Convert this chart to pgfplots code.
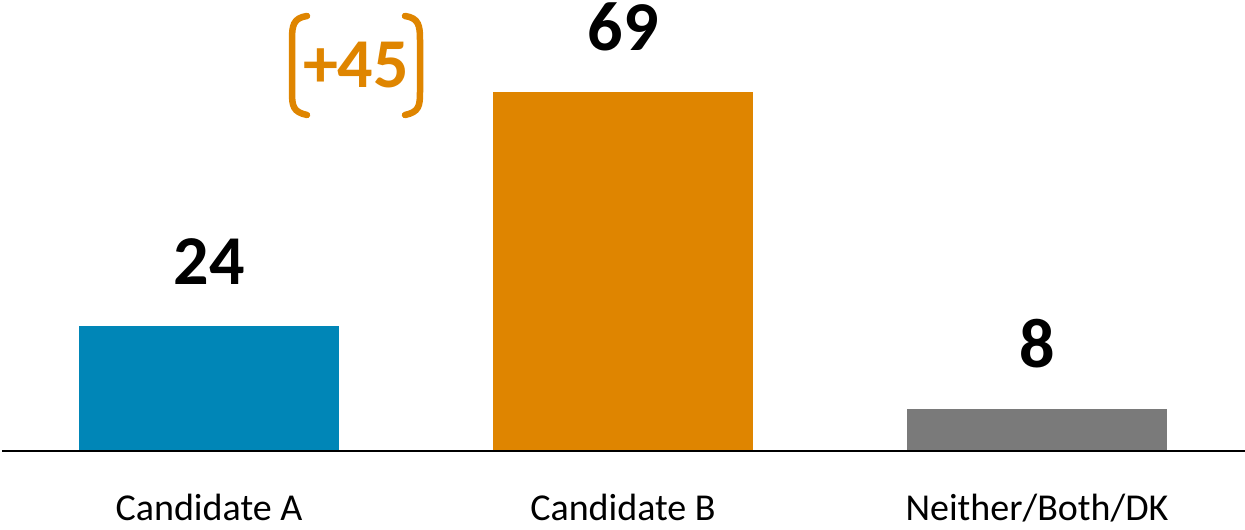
\documentclass[border=0pt]{standalone}
\usepackage{fontspec}
\setmainfont{Carlito}
\usepackage{pgfplots}
\pgfplotsset{compat=1.18}
\definecolor{cblue}{RGB}{0,134,183}
\definecolor{corange}{RGB}{223,133,0}
\definecolor{cgray}{RGB}{122,122,122}
\begin{document}
\begin{tikzpicture}
\begin{axis}[
  scale only axis,
  width=1245pt, height=529pt,
  xmin=-0.50483, xmax=2.50242,
  ymin=-15, ymax=86.7308,
  axis lines=none,
  ybar, bar width=0.628, bar shift=0pt,
  nodes near coords={\pgfmathprintnumber[assume math mode=true]{\pgfplotspointmeta}},
  every node near coord/.append style={font=\fontsize{70}{84}\selectfont\bfseries, text=black, anchor=base, yshift=42pt, inner sep=0pt},
  clip=false,
]
\addplot[fill=cblue, draw=none] coordinates {(0,24)};
\addplot[fill=corange, draw=none] coordinates {(1,69)};
\addplot[fill=cgray, draw=none] coordinates {(2,8)};
\end{axis}
\begin{scope}[shift={(current axis.north west)}, x=1pt, y=-1pt]
  \draw[black, line width=1.6pt] (2,451) -- (1245,451);
  \node[font=\fontsize{38}{46}\selectfont, anchor=base, inner sep=0pt] at (209,520) {Candidate A};
  \node[font=\fontsize{38}{46}\selectfont, anchor=base, inner sep=0pt] at (623,520) {Candidate B};
  \node[font=\fontsize{38}{46}\selectfont, anchor=base, inner sep=0pt] at (1037,520) {Neither/Both/DK};
  \node[font=\fontsize{70}{84}\selectfont\bfseries, text=corange, anchor=base, inner sep=0pt] at (356,88) {+45};
  \draw[corange, line width=6.5pt, line cap=round]
    (307,16) .. controls (293,18) and (292,26) .. (292,40) -- (292,92) .. controls (292,106) and (293,112) .. (307,115);
  \draw[corange, line width=6.5pt, line cap=round]
    (405,16) .. controls (419,18) and (420,26) .. (420,40) -- (420,92) .. controls (420,106) and (419,112) .. (405,115);
\end{scope}
\pgfresetboundingbox
\useasboundingbox (current axis.south west) rectangle (current axis.north east);
\end{tikzpicture}
\end{document}
